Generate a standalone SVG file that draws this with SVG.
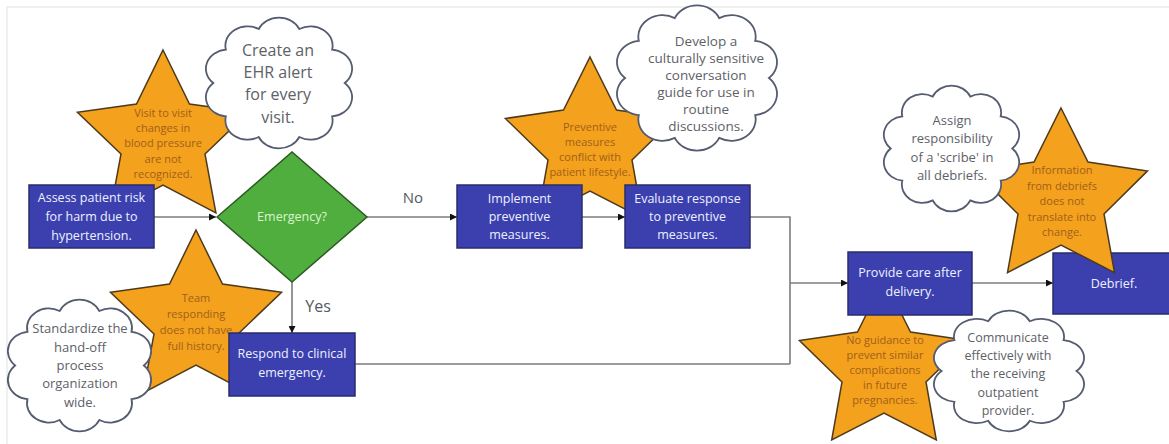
<svg xmlns="http://www.w3.org/2000/svg" xmlns:xlink="http://www.w3.org/1999/xlink" width="1169" height="444" viewBox="0 0 1169 444">
  <defs>
    <style>
      .frame { fill: none; stroke: #ececec; stroke-width: 1.5; }
      .box { fill: #3b40ae; stroke: #2a2d6c; stroke-width: 1.5; }
      .box-text { font-family: "Open Sans", "Noto Sans", sans-serif; font-size: 12.5px; fill: #eef0ff; text-anchor: middle; }
      .decision { fill: #50ae3f; stroke: #2c5a23; stroke-width: 1.5; }
      .decision-text { font-family: "Open Sans", "Noto Sans", sans-serif; font-size: 12.5px; fill: #dcf5cc; text-anchor: middle; }
      .star { fill: #f4a11d; stroke: #4d3b1c; stroke-width: 1.5; stroke-linejoin: miter; }
      .star-text { font-family: "Open Sans", "Noto Sans", sans-serif; font-size: 11px; fill: #a0601a; text-anchor: middle; }
      .cloud { fill: #ffffff; stroke: #555c70; stroke-width: 1.8; vector-effect: non-scaling-stroke; }
      .cloud-text { font-family: "Open Sans", "Noto Sans", sans-serif; fill: #5d6168; text-anchor: middle; }
      .link { fill: none; stroke: #7c7c7c; stroke-width: 1.6; }
      .label { font-family: "Open Sans", "Noto Sans", sans-serif; fill: #555a60; text-anchor: middle; }
    </style>
    <marker id="arrow" viewBox="0 0 10 10" refX="10" refY="5" markerWidth="9" markerHeight="7" markerUnits="userSpaceOnUse" orient="auto">
      <path d="M0 0 L10 5 L0 10 Z" fill="#111"/>
    </marker>
    <!-- cloud outline in a 100x100 box, scaled per use -->
    <path id="cloud" class="cloud" d="M94.4 50 A15 15 0 0 1 85.9 76.1 A15 15 0 0 1 63.7 92.2 A15 15 0 0 1 36.3 92.2 A15 15 0 0 1 14.1 76.1 A15 15 0 0 1 5.6 50 A15 15 0 0 1 14.1 23.9 A15 15 0 0 1 36.3 7.8 A15 15 0 0 1 63.7 7.8 A15 15 0 0 1 85.9 23.9 A15 15 0 0 1 94.4 50 Z"/>
  </defs>

  <rect width="1169" height="444" fill="#ffffff"/>
  <rect class="frame" x="7" y="7" width="1200" height="460"/>

  <!-- risk stars (behind boxes and clouds) -->
  <g id="star-bp">
    <polygon class="star" points="163,50 189.5,104 248.6,112.2 205,154 215.9,212.8 163,185 110.1,212.8 121,154 77.4,112.2 136.5,104"/>
    <text class="star-text" x="163" y="117">Visit to visit</text>
    <text class="star-text" x="163" y="132">changes in</text>
    <text class="star-text" x="163" y="147">blood pressure</text>
    <text class="star-text" x="163" y="163">are not</text>
    <text class="star-text" x="163" y="178">recognized.</text>
  </g>
  <g id="star-history">
    <polygon class="star" points="196,230 222.5,284 281.6,292.2 238,334 248.9,392.8 196,365 143.1,392.8 154,334 110.4,292.2 169.5,284"/>
    <text class="star-text" x="196" y="302">Team</text>
    <text class="star-text" x="196" y="318">responding</text>
    <text class="star-text" x="196" y="334">does not have</text>
    <text class="star-text" x="196" y="350">full history.</text>
  </g>
  <g id="star-lifestyle">
    <polygon class="star" points="590,57 616.5,110 674.6,118.5 632,160 642.3,218 590,191 537.7,218 548,160 505.4,118.5 563.5,110"/>
    <text class="star-text" x="590" y="131">Preventive</text>
    <text class="star-text" x="590" y="146">measures</text>
    <text class="star-text" x="590" y="161">conflict with</text>
    <text class="star-text" x="590" y="176">patient lifestyle.</text>
  </g>
  <g id="star-guidance">
    <polygon class="star" points="884,279 910.5,332 968.6,340.5 926,382 936.3,440 884,413 831.7,440 842,382 799.4,340.5 857.5,332"/>
    <text class="star-text" x="885" y="344">No guidance to</text>
    <text class="star-text" x="885" y="359">prevent similar</text>
    <text class="star-text" x="885" y="374">complications</text>
    <text class="star-text" x="885" y="389">in future</text>
    <text class="star-text" x="885" y="404">pregnancies.</text>
  </g>

  <!-- improvement clouds -->
  <g id="cloud-ehr">
    <use xlink:href="#cloud" href="#cloud" transform="translate(205,19) scale(1.48,1.28)"/>
    <text class="cloud-text" font-size="16" x="278" y="56">Create an</text>
    <text class="cloud-text" font-size="16" x="278" y="78">EHR alert</text>
    <text class="cloud-text" font-size="16" x="278" y="100">for every</text>
    <text class="cloud-text" font-size="16" x="278" y="123">visit.</text>
  </g>
  <g id="cloud-guide">
    <use xlink:href="#cloud" href="#cloud" transform="translate(616,7) scale(1.62,1.42)"/>
    <text class="cloud-text" font-size="13.5" x="706" y="46">Develop a</text>
    <text class="cloud-text" font-size="13.5" x="706" y="63">culturally sensitive</text>
    <text class="cloud-text" font-size="13.5" x="706" y="80">conversation</text>
    <text class="cloud-text" font-size="13.5" x="706" y="97">guide for use in</text>
    <text class="cloud-text" font-size="13.5" x="706" y="114">routine</text>
    <text class="cloud-text" font-size="13.5" x="706" y="131">discussions.</text>
  </g>
  <g id="cloud-handoff">
    <use xlink:href="#cloud" href="#cloud" transform="translate(7,301) scale(1.45,1.29)"/>
    <text class="cloud-text" font-size="13" x="80" y="333">Standardize the</text>
    <text class="cloud-text" font-size="13" x="80" y="352">hand-off</text>
    <text class="cloud-text" font-size="13" x="80" y="370">process</text>
    <text class="cloud-text" font-size="13" x="80" y="388">organization</text>
    <text class="cloud-text" font-size="13" x="80" y="407">wide.</text>
  </g>
  <g id="cloud-outpatient">
    <use xlink:href="#cloud" href="#cloud" transform="translate(933,312) scale(1.52,1.18)"/>
    <text class="cloud-text" font-size="12.5" x="1008" y="342">Communicate</text>
    <text class="cloud-text" font-size="12.5" x="1008" y="360">effectively with</text>
    <text class="cloud-text" font-size="12.5" x="1008" y="378">the receiving</text>
    <text class="cloud-text" font-size="12.5" x="1008" y="397">outpatient</text>
    <text class="cloud-text" font-size="12.5" x="1008" y="415">provider.</text>
  </g>

  <!-- connectors -->
  <g id="connectors">
    <path class="link" d="M154 217 H216" marker-end="url(#arrow)"/>
    <path class="link" d="M367 217 H457" marker-end="url(#arrow)"/>
    <path class="link" d="M582 217 H625" marker-end="url(#arrow)"/>
    <path class="link" d="M292 282 V333" marker-end="url(#arrow)"/>
    <path class="link" d="M750 217 H790 V364"/>
    <path class="link" d="M355 364 H790"/>
    <path class="link" d="M790 283 H848" marker-end="url(#arrow)"/>
    <path class="link" d="M972 283 H1053" marker-end="url(#arrow)"/>
    <text class="label" font-size="15" x="413" y="203">No</text>
    <text class="label" font-size="16" x="318" y="312">Yes</text>
  </g>

  <!-- process steps -->
  <g id="assess">
    <rect class="box" x="29" y="185" width="125" height="63"/>
    <text class="box-text" x="91.5" y="202">Assess patient risk</text>
    <text class="box-text" x="91.5" y="221">for harm due to</text>
    <text class="box-text" x="91.5" y="240">hypertension.</text>
  </g>
  <g id="emergency">
    <polygon class="decision" points="217,217 292,152 367,217 292,282"/>
    <text class="decision-text" x="292" y="221">Emergency?</text>
  </g>
  <g id="implement">
    <rect class="box" x="457" y="185" width="125" height="63"/>
    <text class="box-text" x="519.5" y="203">Implement</text>
    <text class="box-text" x="519.5" y="221">preventive</text>
    <text class="box-text" x="519.5" y="239">measures.</text>
  </g>
  <g id="evaluate">
    <rect class="box" x="625" y="185" width="125" height="63"/>
    <text class="box-text" x="687.5" y="203">Evaluate response</text>
    <text class="box-text" x="687.5" y="221">to preventive</text>
    <text class="box-text" x="687.5" y="239">measures.</text>
  </g>
  <g id="respond">
    <rect class="box" x="229" y="333" width="126" height="63"/>
    <text class="box-text" x="292" y="358">Respond to clinical</text>
    <text class="box-text" x="292" y="377">emergency.</text>
  </g>
  <g id="provide">
    <rect class="box" x="848" y="252" width="124" height="63"/>
    <text class="box-text" x="910" y="277">Provide care after</text>
    <text class="box-text" x="910" y="296">delivery.</text>
  </g>
  <g id="debrief">
    <rect class="box" x="1053" y="253" width="124" height="61"/>
    <text class="box-text" x="1114" y="288">Debrief.</text>
  </g>

  <!-- debrief risk star sits over its step, under its cloud -->
  <g id="star-debrief">
    <polygon class="star" points="1061,108 1088,162 1147.5,170.9 1104,214 1114.5,272.6 1061,245 1007.5,272.6 1018,214 974.5,170.9 1034,162"/>
    <text class="star-text" x="1062" y="174">Information</text>
    <text class="star-text" x="1062" y="190">from debriefs</text>
    <text class="star-text" x="1062" y="205">does not</text>
    <text class="star-text" x="1062" y="221">translate into</text>
    <text class="star-text" x="1062" y="236">change.</text>
  </g>
  <g id="cloud-scribe">
    <use xlink:href="#cloud" href="#cloud" transform="translate(883,87) scale(1.37,1.23)"/>
    <text class="cloud-text" font-size="13" x="952" y="125">Assign</text>
    <text class="cloud-text" font-size="13" x="952" y="143">responsibility</text>
    <text class="cloud-text" font-size="13" x="952" y="162">of a 'scribe' in</text>
    <text class="cloud-text" font-size="13" x="952" y="180">all debriefs.</text>
  </g>
</svg>
